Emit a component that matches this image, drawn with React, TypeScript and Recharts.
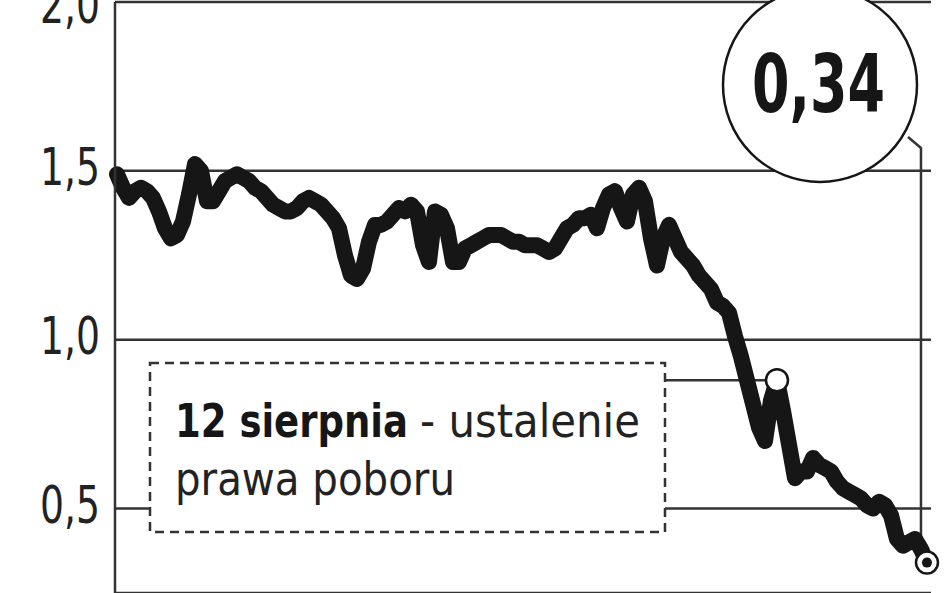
import {
  LineChart,
  Line,
  XAxis,
  YAxis,
  CartesianGrid,
  ReferenceDot,
  ReferenceLine,
} from "recharts";

// Kurs akcji (zł) – kolejne notowania
const kurs = [
  1.49, 1.45, 1.42, 1.44, 1.45, 1.44, 1.42, 1.38, 1.33, 1.3,
  1.31, 1.35, 1.43, 1.52, 1.5, 1.41, 1.41, 1.44, 1.47, 1.48,
  1.49, 1.48, 1.47, 1.45, 1.44, 1.42, 1.4, 1.39, 1.38, 1.38,
  1.39, 1.41, 1.42, 1.41, 1.4, 1.38, 1.36, 1.33, 1.25, 1.19,
  1.18, 1.21, 1.29, 1.34, 1.34, 1.35, 1.37, 1.39, 1.38, 1.4,
  1.38, 1.28, 1.23, 1.38, 1.37, 1.33, 1.23, 1.23, 1.27, 1.28,
  1.29, 1.3, 1.31, 1.31, 1.31, 1.3, 1.29, 1.29, 1.28, 1.28,
  1.28, 1.27, 1.26, 1.27, 1.3, 1.33, 1.34, 1.36, 1.36, 1.37,
  1.33, 1.39, 1.43, 1.44, 1.39, 1.35, 1.43, 1.45, 1.41, 1.3,
  1.22, 1.3, 1.34, 1.3, 1.26, 1.24, 1.22, 1.19, 1.17, 1.15,
  1.11, 1.1, 1.08, 1.01, 0.95, 0.88, 0.81, 0.74, 0.7, 0.82,
  0.88, 0.79, 0.69, 0.59, 0.61, 0.61, 0.65, 0.63, 0.62, 0.61,
  0.58, 0.56, 0.55, 0.54, 0.53, 0.51, 0.5, 0.52, 0.51, 0.48,
  0.41, 0.39, 0.4, 0.41, 0.38, 0.34,
];

const yTicks = [0.5, 1.0, 1.5, 2.0];
const yLabels = ["0,5", "1,0", "1,5", "2,0"];

// 12 sierpnia – ustalenie prawa poboru
const idxPrawo = 110;
const ostatniaCena = "0,34";

const dane = kurs.map((v, i) => ({ i, kurs: v }));
const ostatni = dane.length - 1;

const FONT = "'DejaVu Sans Condensed', 'DejaVu Sans', sans-serif";
const INK = "#161616";

function OsY(props: any) {
  const { y, payload } = props;
  const label = yLabels[yTicks.indexOf(payload.value)];
  return (
    <text
      x={100}
      y={y + 14}
      textAnchor="end"
      fontFamily={FONT}
      fontSize={52}
      fill="#222"
      textLength={60}
      lengthAdjust="spacingAndGlyphs"
    >
      {label}
    </text>
  );
}

export default function App() {
  return (
    <div style={{ position: "absolute", left: 0, top: 0, width: 948, height: 593, background: "#fff" }}>
      <LineChart
        width={948}
        height={593}
        data={dane}
        margin={{ top: 2, right: 17, bottom: 0, left: 0 }}
      >
        <CartesianGrid vertical={false} stroke="#333" strokeWidth={2.5} />
        <XAxis type="number" dataKey="i" domain={[-0.33, 135.67]} hide />
        <YAxis
          width={115}
          domain={[0.25, 2.0]}
          ticks={yTicks}
          allowDataOverflow
          tick={<OsY />}
          tickLine={false}
          axisLine={{ stroke: "#333", strokeWidth: 2.5 }}
        />
        <ReferenceLine
          segment={[
            { x: 91, y: kurs[idxPrawo] },
            { x: idxPrawo, y: kurs[idxPrawo] },
          ]}
          stroke="#333"
          strokeWidth={2.5}
        />
        <ReferenceLine
          segment={[
            { x: ostatni - 1, y: 1.57 },
            { x: ostatni - 1, y: kurs[ostatni] },
          ]}
          stroke="#333"
          strokeWidth={2.5}
        />
        <Line
          type="linear"
          dataKey="kurs"
          stroke={INK}
          strokeWidth={16}
          strokeLinejoin="round"
          strokeLinecap="round"
          dot={false}
          activeDot={false}
          isAnimationActive={false}
        />
        <ReferenceDot x={idxPrawo} y={kurs[idxPrawo]} r={11} fill="#fff" stroke={INK} strokeWidth={2.5} />
        <ReferenceDot x={ostatni} y={kurs[ostatni]} r={11} fill="#fff" stroke={INK} strokeWidth={2.5} />
        <ReferenceDot x={ostatni} y={kurs[ostatni]} r={5} fill={INK} stroke="none" />
      </LineChart>

      <svg
        width={948}
        height={593}
        style={{ position: "absolute", left: 0, top: 0, pointerEvents: "none" }}
      >
        {/* ramka z opisem */}
        <rect x={150} y={363} width={515} height={169} fill="#fff" stroke="#333" strokeWidth={2.5} strokeDasharray="9 6" />
        <text x={175} y={437} fontFamily={FONT} fontSize={46} fontWeight="bold" fill={INK} textLength={233} lengthAdjust="spacingAndGlyphs">
          12 sierpnia
        </text>
        <text x={420} y={437} fontFamily={FONT} fontSize={46} fill="#222" textLength={220} lengthAdjust="spacingAndGlyphs">
          - ustalenie
        </text>
        <text x={175} y={495} fontFamily={FONT} fontSize={46} fill="#222" textLength={280} lengthAdjust="spacingAndGlyphs">
          prawa poboru
        </text>

        {/* kółko z ostatnim kursem */}
        <polyline points="908,137 921,148" fill="none" stroke="#333" strokeWidth={2.5} />
        <circle cx={820} cy={85} r={97} fill="#fff" stroke={INK} strokeWidth={2.5} />
        <text x={752} y={112} fontFamily={FONT} fontSize={80} fontWeight="bold" fill={INK} textLength={133} lengthAdjust="spacingAndGlyphs">
          {ostatniaCena}
        </text>
      </svg>
    </div>
  );
}
